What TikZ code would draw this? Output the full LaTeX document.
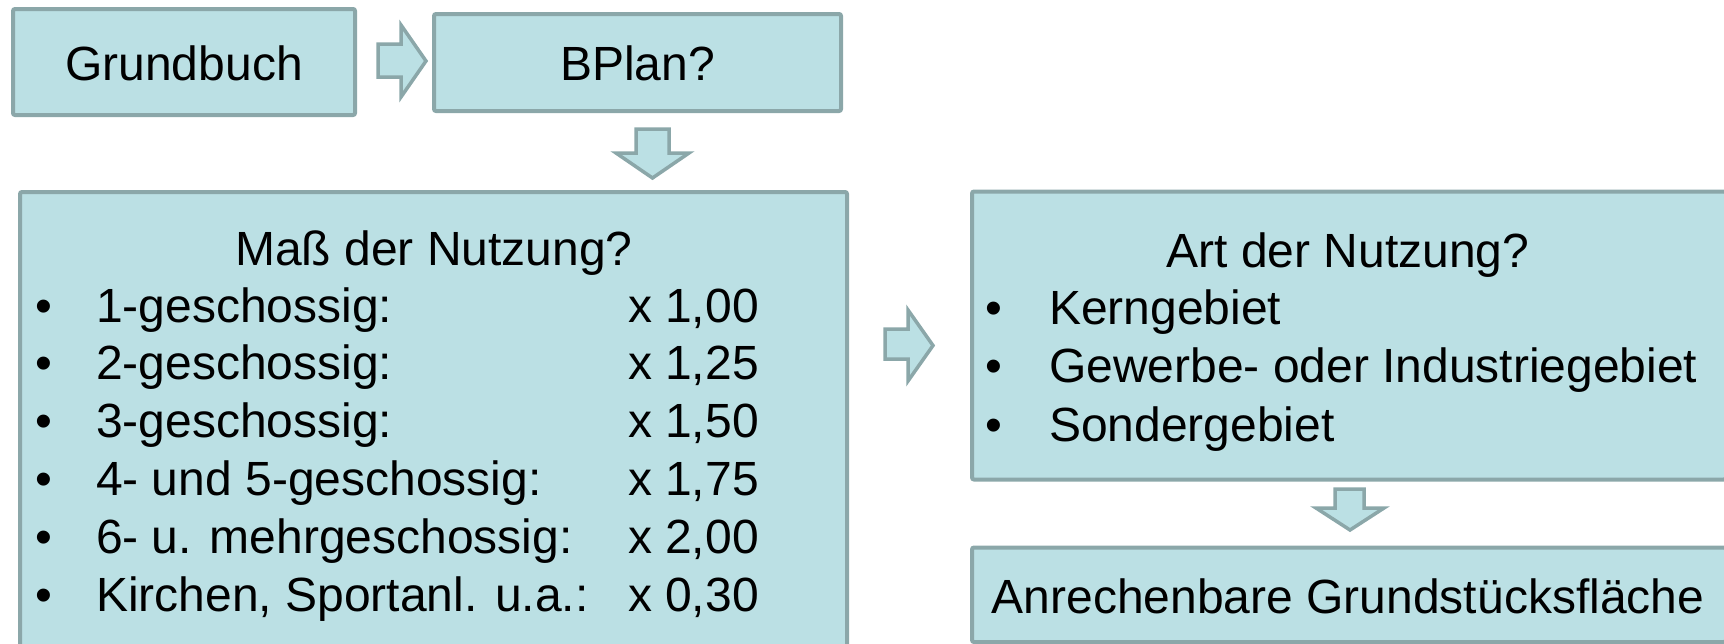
\documentclass[tikz,border=0pt]{standalone}
\usepackage{fontspec}
\setmainfont{Liberation Sans}
\definecolor{boxfill}{RGB}{187,224,228}
\definecolor{boxline}{RGB}{139,167,169}
\begin{document}
\begin{tikzpicture}[x=1pt,y=-1pt,
  box/.style={draw=boxline,fill=boxfill,line width=4pt,rectangle,rounded corners=2pt,inner sep=0pt,outer sep=0pt},
  blockarrow/.style={draw=boxline,fill=boxfill,line width=3.5pt,line join=miter},
  txt/.style={inner sep=0pt,outer sep=0pt,font=\fontsize{48}{57}\selectfont},
  tl/.style={txt,anchor=base west},
  tc/.style={txt,anchor=base}]
\useasboundingbox (0,0) rectangle (1724,643);
\clip (0,0) rectangle (1724,643);
% boxes
\node[box,minimum width=342pt,minimum height=106pt] (grund) at (184,62) {};
\node[box,minimum width=407pt,minimum height=97pt] (bplan) at (637.5,62.5) {};
\node[box,minimum width=827pt,minimum height=470pt] (mass) at (433.5,427) {};
\node[box,minimum width=754pt,minimum height=288pt] (art) at (1349,335.5) {};
\node[box,minimum width=754pt,minimum height=94.5pt] (anr) at (1349,594.75) {};
% block arrows
\draw[blockarrow] (378,44) -- (401,44) -- (401,25) -- (426,61) -- (401,97) -- (401,77) -- (378,77) -- cycle;
\draw[blockarrow] (636,129) -- (669,129) -- (669,153) -- (689,153) -- (652.5,178) -- (616,153) -- (636,153) -- cycle;
\draw[blockarrow] (885,329) -- (908,329) -- (908,310) -- (933,345.5) -- (908,381) -- (908,359) -- (885,359) -- cycle;
\draw[blockarrow] (1335,489) -- (1364,489) -- (1364,508) -- (1384,508) -- (1350,530) -- (1316,508) -- (1335,508) -- cycle;
% texts
\node[tc] (tgrund) at (184,80) {Grundbuch};
\node[tc] (tbplan) at (637.5,80) {BPlan?};
\node[tc] (tmass) at (434,265) {Maß der Nutzung?};
\node[tl] (b1) at (35,322) {•};
\node[tl] (m1) at (96,322) {1-geschossig:};
\node[tl] (v1) at (628,322) {x 1,00};
\node[tl] (b2) at (35,379.8) {•};
\node[tl] (m2) at (96,379.8) {2-geschossig:};
\node[tl] (v2) at (628,379.8) {x 1,25};
\node[tl] (b3) at (35,437.6) {•};
\node[tl] (m3) at (96,437.6) {3-geschossig:};
\node[tl] (v3) at (628,437.6) {x 1,50};
\node[tl] (b4) at (35,495.4) {•};
\node[tl] (m4) at (96,495.4) {4- und 5-geschossig:};
\node[tl] (v4) at (628,495.4) {x 1,75};
\node[tl] (b5) at (35,553.2) {•};
\node[tl] (m5) at (96,553.2) {6- u. mehrgeschossig:};
\node[tl] (v5) at (628,553.2) {x 2,00};
\node[tl] (b6) at (35,611) {•};
\node[tl] (m6) at (96,611) {Kirchen, Sportanl. u.a.:};
\node[tl] (v6) at (628,611) {x 0,30};
\node[tc] (tart) at (1348,267) {Art der Nutzung?};
\node[tl] (a1b) at (985,324) {•};
\node[tl] (a1) at (1049,324) {Kerngebiet};
\node[tl] (a2b) at (985,382.5) {•};
\node[tl] (a2) at (1049,382.5) {Gewerbe- oder Industriegebiet};
\node[tl] (a3b) at (985,441) {•};
\node[tl] (a3) at (1049,441) {Sondergebiet};
\node[tc] (tanr) at (1348,613) {Anrechenbare Grundstücksfläche};
\end{tikzpicture}
\end{document}
